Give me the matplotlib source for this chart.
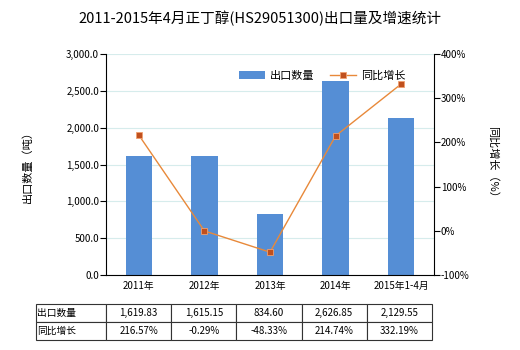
import matplotlib
matplotlib.use("Agg")
import matplotlib.pyplot as plt
from matplotlib.ticker import FuncFormatter

plt.rcParams['font.family'] = ['Noto Sans CJK SC', 'DejaVu Sans']

# data
categories = ['2011年', '2012年', '2013年', '2014年', '2015年1-4月']
volume = [1619.83, 1615.15, 834.60, 2626.85, 2129.55]
growth = [216.57, -0.29, -48.33, 214.74, 332.19]
volume_labels = ['1,619.83', '1,615.15', '834.60', '2,626.85', '2,129.55']
growth_labels = ['216.57%', '-0.29%', '-48.33%', '214.74%', '332.19%']

bar_color = '#558ed5'
line_color = '#e8893a'
marker_color = '#c0501e'

fig = plt.figure(figsize=(5.2, 3.5), dpi=100)
ax = fig.add_axes([106/520, 1 - 275/350, (434 - 106)/520, (275 - 54)/350])
ax2 = ax.twinx()

x = list(range(len(categories)))
ax.bar(x, volume, width=0.4, color=bar_color, label='出口数量', zorder=2)
ax2.plot(x, growth, color=line_color, lw=1, marker='s', ms=5,
         mfc=marker_color, mec='#f0a070', mew=0.6, label='同比增长', zorder=3)

ax.set_xlim(-0.5, 4.5)
ax.set_ylim(0, 3000)
ax.set_yticks([0, 500, 1000, 1500, 2000, 2500, 3000])
ax.yaxis.set_major_formatter(FuncFormatter(lambda v, p: f'{v:,.1f}'))
ax2.set_ylim(-100, 400)
ax2.set_yticks([-100, 0, 100, 200, 300, 400])
ax2.yaxis.set_major_formatter(FuncFormatter(lambda v, p: f'{v:.0f}%'))
ax.set_xticks(x)
ax.set_xticklabels(categories)
ax.tick_params(axis='x', length=0, labelsize=7, pad=4)
ax.tick_params(axis='y', labelsize=7, length=4, pad=1)
ax2.tick_params(axis='y', labelsize=7, length=4, pad=1)
ax.grid(axis='y', color='#d6ecec', lw=0.8, zorder=0)
ax.set_axisbelow(True)
for a in (ax, ax2):
    a.spines['top'].set_visible(False)
ax.spines['right'].set_visible(False)
ax2.spines['left'].set_visible(False)
ax2.spines['bottom'].set_visible(False)

ax.set_ylabel('出口数量（吨）', fontsize=8, labelpad=24)
ax2.set_ylabel('同比增长（%）', fontsize=8, rotation=-90, labelpad=20)

fig.text(0.5, 1 - 18/350, '2011-2015年4月正丁醇(HS29051300)出口量及增速统计',
         ha='center', va='center', fontsize=10.5)

h1, l1 = ax.get_legend_handles_labels()
h2, l2 = ax2.get_legend_handles_labels()
ax2.legend(h1 + h2, l1 + l2, loc='upper right', bbox_to_anchor=(0.945, 0.97),
           ncol=2, frameon=False, fontsize=8, handlelength=2.3,
           columnspacing=1.4, handletextpad=0.5)

# table under the chart
tax = fig.add_axes([36/520, 1 - 340/350, (432 - 36)/520, 36/350])
tax.axis('off')
tbl = tax.table(cellText=[['出口数量'] + volume_labels, ['同比增长'] + growth_labels],
                colWidths=[70/396] + [65.2/396] * 5, bbox=[0, 0, 1, 1],
                cellLoc='center')
tbl.auto_set_font_size(False)
for (r, c), cell in tbl.get_celld().items():
    cell.set_fontsize(7)
    cell.set_linewidth(0.8)
    cell.set_edgecolor('#333333')
    if c == 0:
        cell.get_text().set_ha('left')
        cell.PAD = 0.02

fig.savefig('out.png', dpi=100)
